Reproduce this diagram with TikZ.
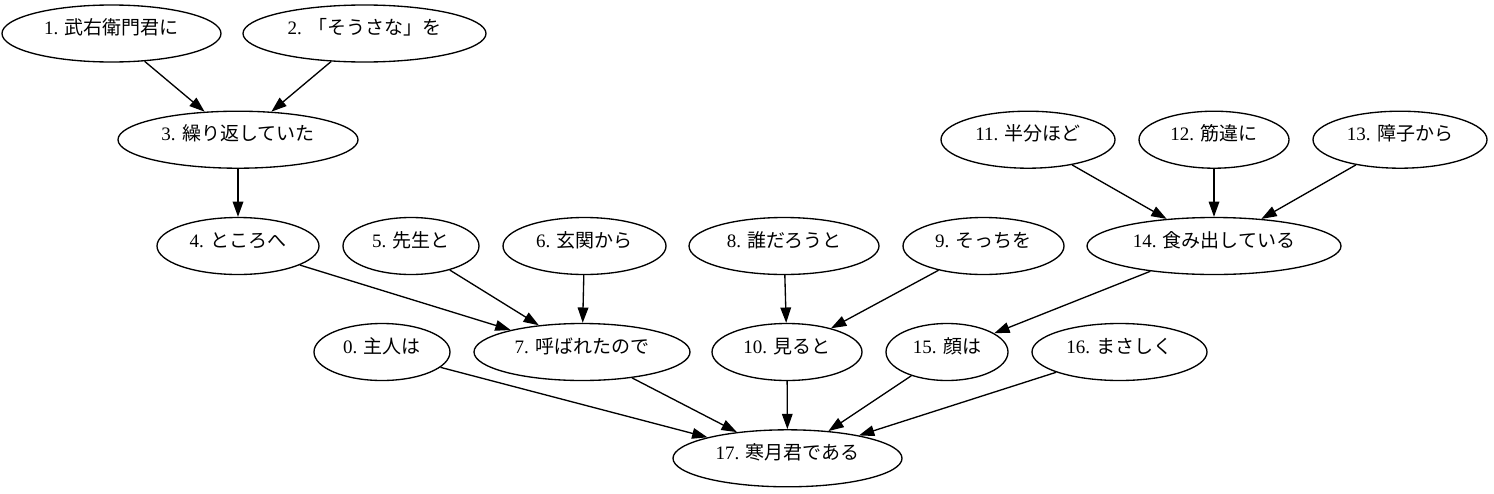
\documentclass[tikz,border=0pt]{standalone}
\usepackage{fontspec}
\setmainfont{Liberation Serif}
\newfontfamily\cjk{Noto Sans CJK JP}
\usetikzlibrary{shapes.geometric,arrows.meta}
\begin{document}
\begin{tikzpicture}[x=0.75pt,y=-0.75pt,
  nd/.style={ellipse, draw, line width=1pt, inner sep=0pt, minimum height=42.75pt,
    minimum width=#1*0.75pt, text height=10pt, text depth=8.2pt,
    font=\fontsize{14.25}{17}\selectfont},
  ar/.style={-{Triangle[length=11.5pt,width=8pt]}, line width=1pt}]
\useasboundingbox (0,0) rectangle (1494,493);
% row 1
\node[nd=219] (n1) at (111.5,33.5) {1. {\cjk 武右衛門君に}};
\node[nd=243] (n2) at (364.5,33.5) {2. {\cjk 「そうさな」を}};
% row 2
\node[nd=240] (n3) at (238,139.7) {3. {\cjk 繰り返していた}};
\node[nd=174] (n11) at (1028,139.7) {11. {\cjk 半分ほど}};
\node[nd=150] (n12) at (1214,139.7) {12. {\cjk 筋違に}};
\node[nd=174] (n13) at (1400,139.7) {13. {\cjk 障子から}};
% row 3
\node[nd=162] (n4) at (238,246) {4. {\cjk ところへ}};
\node[nd=136] (n5) at (411,246) {5. {\cjk 先生と}};
\node[nd=163] (n6) at (584.5,246) {6. {\cjk 玄関から}};
\node[nd=190] (n8) at (784,246) {8. {\cjk 誰だろうと}};
\node[nd=161] (n9) at (983.5,246) {9. {\cjk そっちを}};
\node[nd=254] (n14) at (1214,246) {14. {\cjk 食み出している}};
% row 4
\node[nd=136] (n0) at (382,352) {0. {\cjk 主人は}};
\node[nd=216] (n7) at (582,352) {7. {\cjk 呼ばれたので}};
\node[nd=150] (n10) at (787,352) {10. {\cjk 見ると}};
\node[nd=122] (n15) at (947,352) {15. {\cjk 顔は}};
\node[nd=175] (n16) at (1119.5,352) {16. {\cjk まさしく}};
% row 5
\node[nd=229] (n17) at (787.5,458.3) {17. {\cjk 寒月君である}};
% edges
\draw[ar] (n1) -- (n3);
\draw[ar] (n2) -- (n3);
\draw[ar] (n3) -- (n4);
\draw[ar] (n4) -- (n7);
\draw[ar] (n5) -- (n7);
\draw[ar] (n6) -- (n7);
\draw[ar] (n8) -- (n10);
\draw[ar] (n9) -- (n10);
\draw[ar] (n11) -- (n14);
\draw[ar] (n12) -- (n14);
\draw[ar] (n13) -- (n14);
\draw[ar] (n14) -- (n15);
\draw[ar] (n0) -- (n17);
\draw[ar] (n7) -- (n17);
\draw[ar] (n10) -- (n17);
\draw[ar] (n15) -- (n17);
\draw[ar] (n16) -- (n17);
\end{tikzpicture}
\end{document}
